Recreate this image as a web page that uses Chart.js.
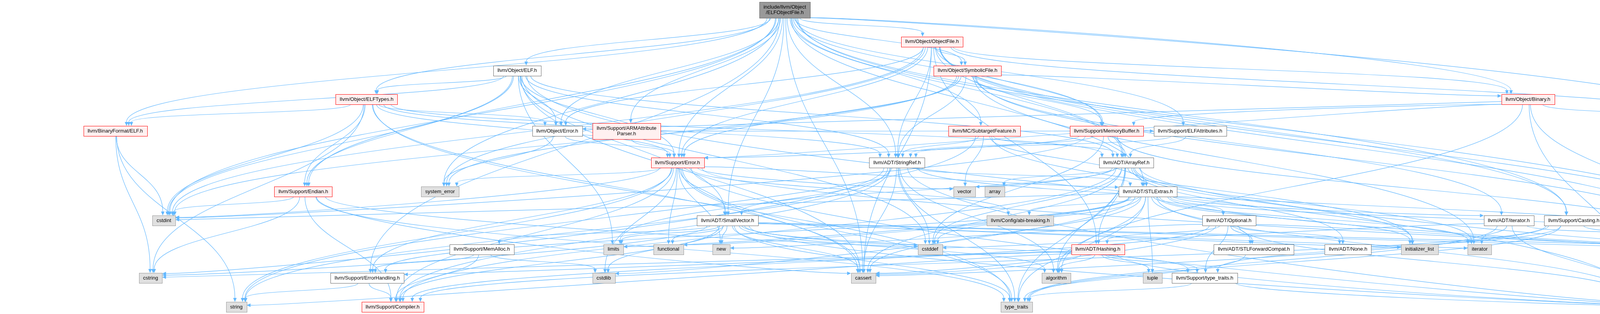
<!DOCTYPE html>
<html>
<head>
<meta charset="utf-8">
<script src="https://cdn.jsdelivr.net/npm/chart.js@4.4.0/dist/chart.umd.min.js"></script>
<style>
  body { margin: 0; background: #fff; }
  #wrap { width: 5011px; height: 803px; }
</style>
</head>
<body>
<div id="wrap"><canvas id="graph" width="5011" height="803"></canvas></div>
<script>
// include graph nodes (id, label, layout position, kind)
const nodeIds = ["root", "ObjectFile", "ObjELF", "SymbolicFile", "ELFTypes", "Binary",
  "BFELF", "ObjError", "ARMAttr", "Subtarget", "MemoryBuffer", "ELFAttributes", "Triple",
  "Error", "StringRef", "ArrayRef", "Endian", "system_error", "vector", "array", "STLExtras",
  "cstdint", "SmallVector", "abi", "Optional", "iteratorH", "Casting",
  "MemAlloc", "limits", "functional", "new", "cstddef", "Hashing", "STLFwd", "None",
  "initializer_list", "iterator", "memory", "iterator_range",
  "cstring", "ErrorHandling", "cstdlib", "cassert", "algorithm", "tuple", "TypeTraitsH",
  "string", "Compiler", "type_traits", "utility"];

const nodeLabels = ["include/llvm/Object\n/ELFObjectFile.h", "llvm/Object/ObjectFile.h", "llvm/Object/ELF.h",
  "llvm/Object/SymbolicFile.h", "llvm/Object/ELFTypes.h", "llvm/Object/Binary.h",
  "llvm/BinaryFormat/ELF.h", "llvm/Object/Error.h", "llvm/Support/ARMAttribute\nParser.h",
  "llvm/MC/SubtargetFeature.h", "llvm/Support/MemoryBuffer.h", "llvm/Support/ELFAttributes.h", "llvm/ADT/Triple.h",
  "llvm/Support/Error.h", "llvm/ADT/StringRef.h", "llvm/ADT/ArrayRef.h", "llvm/Support/Endian.h",
  "system_error", "vector", "array", "llvm/ADT/STLExtras.h",
  "cstdint", "llvm/ADT/SmallVector.h", "llvm/Config/abi-breaking.h", "llvm/ADT/Optional.h",
  "llvm/ADT/iterator.h", "llvm/Support/Casting.h",
  "llvm/Support/MemAlloc.h", "limits", "functional", "new", "cstddef", "llvm/ADT/Hashing.h",
  "llvm/ADT/STLForwardCompat.h", "llvm/ADT/None.h", "initializer_list", "iterator", "memory",
  "llvm/ADT/iterator_range.h",
  "cstring", "llvm/Support/ErrorHandling.h", "cstdlib", "cassert", "algorithm", "tuple",
  "llvm/Support/type_traits.h", "string", "llvm/Support/Compiler.h", "type_traits", "utility"];

const nodeX = [2009, 2386, 1324, 2477, 938.5, 3911.5,
  295, 1426.5, 1604, 2519.5, 2833, 3046.5, 4501.5,
  1734.5, 2296.5, 2883.5, 776.5, 1126.5, 2469, 2546.5, 2938.5,
  419.5, 1862.5, 2612, 3146, 3862.5, 4029,
  1233.5, 1570.5, 1711, 1846.5, 2381, 2810.5, 3210, 3451, 3634, 3788, 4384, 4528,
  385.5, 940, 1545.5, 2210, 2704, 2950.5, 3084,
  605, 1005, 2602, 4210.5];

const nodeY = [25.5, 106.5, 180.5, 180.5, 254, 254,
  335, 335, 335.5, 335, 335, 335, 335,
  416, 416, 416, 490, 490, 490, 490, 490,
  564, 564, 564, 564, 564, 564,
  637.5, 637.5, 637.5, 637.5, 637.5, 637.5, 637.5, 637.5, 637.5, 637.5, 637.5, 637.5,
  711, 711, 711, 711, 711, 711, 711,
  785, 785, 785, 785];

// root = the documented file, more = has hidden includes, file = header, sys = system header
const nodeKind = ["root", "more", "file", "more", "more", "more",
  "more", "file", "more", "more", "more", "file", "more",
  "more", "file", "file", "more", "sys", "sys", "sys", "file",
  "sys", "file", "sys", "file", "file", "file",
  "file", "sys", "sys", "sys", "sys", "more", "file", "file", "sys", "sys", "sys", "file",
  "sys", "file", "sys", "sys", "sys", "sys", "file",
  "sys", "more", "sys", "sys"];

// who includes what
const includes = [
  ["root", ["ArrayRef", "STLExtras", "SmallVector", "StringRef", "Triple", "iterator_range", "BFELF",
    "Subtarget", "Binary", "ObjELF", "ELFTypes", "ObjError", "ObjectFile", "SymbolicFile", "ARMAttr",
    "Casting", "ELFAttributes", "Endian", "Error", "ErrorHandling", "MemoryBuffer", "cassert",
    "cstdint", "system_error"]],
  ["ObjELF", ["ArrayRef", "SmallVector", "StringRef", "BFELF", "ELFTypes", "ObjError", "Endian",
    "Error", "cassert", "cstddef", "cstdint", "limits", "utility"]],
  ["ELFTypes", ["ArrayRef", "StringRef", "BFELF", "ObjError", "Endian", "Error", "cassert",
    "cstdint", "cstring", "type_traits"]],
  ["ObjectFile", ["ArrayRef", "Hashing", "StringRef", "Triple", "iterator_range", "Binary",
    "ObjError", "SymbolicFile", "Casting", "Error", "MemoryBuffer", "cassert", "cstdint",
    "memory", "system_error"]],
  ["SymbolicFile", ["StringRef", "iteratorH", "Binary", "Error", "MemoryBuffer", "cstdint",
    "iterator", "memory", "system_error"]],
  ["Binary", ["Triple", "ObjError", "Error", "MemoryBuffer", "algorithm", "memory", "utility"]],
  ["BFELF", ["cstdint", "cstring", "string"]],
  ["ObjError", ["Error", "system_error"]],
  ["ARMAttr", ["Error", "ELFAttributes"]],
  ["Subtarget", ["ArrayRef", "STLExtras", "StringRef", "initializer_list", "string", "vector"]],
  ["MemoryBuffer", ["ArrayRef", "StringRef", "Error", "cstddef", "cstdint", "memory"]],
  ["ELFAttributes", ["ArrayRef", "StringRef"]],
  ["Error", ["abi", "STLExtras", "SmallVector", "ErrorHandling", "Compiler", "cassert", "cstdint",
    "cstdlib", "functional", "memory", "new", "string", "system_error", "type_traits",
    "utility", "vector"]],
  ["StringRef", ["STLExtras", "iterator_range", "Compiler", "algorithm", "cassert", "cstddef",
    "cstring", "limits", "string", "type_traits", "utility"]],
  ["ArrayRef", ["Hashing", "None", "SmallVector", "STLExtras", "Compiler", "algorithm", "array",
    "cassert", "cstddef", "initializer_list", "iterator", "memory", "type_traits", "vector"]],
  ["Endian", ["Compiler", "cassert", "cstddef", "cstdint", "cstring", "type_traits"]],
  ["STLExtras", ["Optional", "STLFwd", "iteratorH", "iterator_range", "abi", "ErrorHandling",
    "algorithm", "cassert", "cstddef", "cstdint", "cstdlib", "functional", "initializer_list",
    "iterator", "limits", "memory", "tuple", "type_traits", "utility"]],
  ["SmallVector", ["iterator_range", "Compiler", "MemAlloc", "TypeTraitsH", "algorithm", "cassert",
    "cstddef", "cstdlib", "cstring", "functional", "initializer_list", "iterator", "limits",
    "memory", "new", "type_traits", "utility"]],
  ["Optional", ["Hashing", "None", "STLFwd", "Compiler", "TypeTraitsH", "cassert", "memory",
    "new", "utility"]],
  ["iteratorH", ["iterator_range", "cstddef", "iterator", "type_traits", "utility"]],
  ["Casting", ["Compiler", "TypeTraitsH", "cassert", "memory", "type_traits"]],
  ["MemAlloc", ["Compiler", "ErrorHandling", "cstdlib"]],
  ["Hashing", ["ErrorHandling", "TypeTraitsH", "algorithm", "cassert", "cstring", "string",
    "tuple", "utility"]],
  ["STLFwd", ["type_traits"]],
  ["iterator_range", ["utility"]],
  ["ErrorHandling", ["Compiler", "string"]],
  ["TypeTraitsH", ["type_traits", "utility"]]
];

const kindStyle = {
  root: { fill: "#999999", stroke: "#666666" },
  more: { fill: "#fff0f0", stroke: "#ff0000" },
  file: { fill: "#ffffff", stroke: "#666666" },
  sys:  { fill: "#e0e0e0", stroke: "#999999" }
};
const FONT = '13px "Liberation Sans", Arial, Helvetica, sans-serif';
const EDGE = "#63b8ff";

function boxSize(ctx, label) {
  const lines = label.split("\n");
  ctx.font = FONT;
  const w = Math.max(...lines.map(l => ctx.measureText(l).width)) + 21;
  const h = lines.length > 1 ? 41 : 26;
  return { w, h, lines };
}

// point where a ray from the box centre leaves the box
function exitPoint(cx, cy, w, h, dx, dy) {
  const tx = dx !== 0 ? (w / 2) / Math.abs(dx) : Infinity;
  const ty = dy !== 0 ? (h / 2) / Math.abs(dy) : Infinity;
  const t = Math.min(tx, ty);
  return { x: cx + dx * t, y: cy + dy * t, side: tx < ty };
}

const graphPlugin = {
  id: "includeGraph",
  beforeDatasetsDraw(chart) {
    const ctx = chart.ctx;
    const pts = chart.getDatasetMeta(0).data;
    const idx = {};
    nodeIds.forEach((id, i) => idx[id] = i);
    const sizes = nodeLabels.map(l => boxSize(ctx, l));
    ctx.save();
    ctx.strokeStyle = EDGE;
    ctx.fillStyle = EDGE;
    ctx.lineWidth = 1.2;
    includes.forEach(([from, tos]) => {
      const a = idx[from];
      tos.forEach(to => {
        const b = idx[to];
        const p = pts[a], q = pts[b];
        const sa = sizes[a], sb = sizes[b];
        const dx = q.x - p.x, dy = q.y - p.y;
        const s = exitPoint(p.x, p.y, sa.w, sa.h, dx, dy * 2.5);
        const e = exitPoint(q.x, q.y, sb.w, sb.h, -dx, -dy * 2.5);
        const span = Math.abs(e.y - s.y);
        const reach = Math.min(Math.abs(e.x - s.x) * 0.3, 160);
        const c1 = s.side
          ? { x: s.x + Math.sign(dx) * reach, y: s.y }
          : { x: s.x, y: s.y + Math.max(20, span * 0.45) };
        const c2 = e.side
          ? { x: e.x - Math.sign(dx) * Math.max(reach, 20), y: e.y }
          : { x: e.x, y: e.y - Math.max(20, span * 0.45) };
        // stop the line at the arrow base
        let ux = e.x - c2.x, uy = e.y - c2.y;
        const len = Math.hypot(ux, uy) || 1;
        ux /= len; uy /= len;
        const al = 10, aw = 4.5;
        const bx = e.x - ux * al, by = e.y - uy * al;
        ctx.beginPath();
        ctx.moveTo(s.x, s.y);
        ctx.bezierCurveTo(c1.x, c1.y, c2.x - ux * al, c2.y - uy * al, bx, by);
        ctx.stroke();
        ctx.beginPath();
        ctx.moveTo(e.x, e.y);
        ctx.lineTo(bx - uy * aw, by + ux * aw);
        ctx.lineTo(bx + uy * aw, by - ux * aw);
        ctx.closePath();
        ctx.fill();
      });
    });
    ctx.restore();
  },
  afterDatasetsDraw(chart) {
    const ctx = chart.ctx;
    const pts = chart.getDatasetMeta(0).data;
    ctx.save();
    pts.forEach((pt, i) => {
      const { w, h, lines } = boxSize(ctx, nodeLabels[i]);
      const st = kindStyle[nodeKind[i]];
      const x0 = Math.round(pt.x - w / 2) + 0.5, y0 = Math.round(pt.y - h / 2) + 0.5;
      ctx.fillStyle = st.fill;
      ctx.fillRect(x0, y0, Math.round(w), Math.round(h));
      ctx.strokeStyle = st.stroke;
      ctx.lineWidth = 1;
      ctx.strokeRect(x0, y0, Math.round(w), Math.round(h));
      ctx.fillStyle = "#000000";
      ctx.font = FONT;
      ctx.textAlign = "center";
      ctx.textBaseline = "middle";
      lines.forEach((l, k) => {
        ctx.fillText(l, pt.x, pt.y + (k - (lines.length - 1) / 2) * 14);
      });
    });
    ctx.restore();
  }
};

new Chart(document.getElementById("graph"), {
  type: "scatter",
  data: {
    datasets: [{
      data: nodeX.map((x, i) => ({ x: x, y: nodeY[i] })),
      pointRadius: 0,
      pointHoverRadius: 0
    }]
  },
  options: {
    responsive: false,
    animation: false,
    devicePixelRatio: 1,
    layout: { padding: 0 },
    scales: {
      x: { type: "linear", min: 0, max: 5011, display: false },
      y: { type: "linear", min: 0, max: 803, reverse: true, display: false }
    },
    plugins: {
      legend: { display: false },
      tooltip: { enabled: false }
    }
  },
  plugins: [graphPlugin]
});
</script>
</body>
</html>
